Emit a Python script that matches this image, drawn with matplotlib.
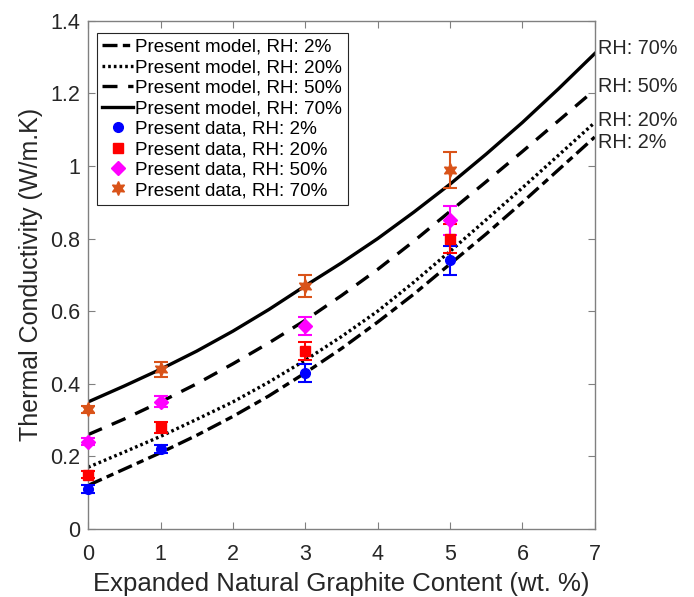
import matplotlib
matplotlib.use("Agg")
import matplotlib.pyplot as plt
from matplotlib.lines import Line2D

plt.rcParams['font.family'] = ['Liberation Sans', 'DejaVu Sans']

# Model curves
x_model = [0, 0.5, 1, 1.5, 2, 2.5, 3, 3.5, 4, 4.5, 5, 5.5, 6, 6.5, 7]
model_rh2 = [0.12, 0.165, 0.21, 0.258, 0.31, 0.367, 0.43, 0.497, 0.57, 0.647, 0.73, 0.813, 0.90, 0.99, 1.08]
model_rh20 = [0.17, 0.212, 0.255, 0.302, 0.35, 0.405, 0.465, 0.53, 0.60, 0.68, 0.765, 0.852, 0.94, 1.03, 1.12]
model_rh50 = [0.26, 0.303, 0.35, 0.40, 0.455, 0.513, 0.575, 0.643, 0.715, 0.793, 0.875, 0.957, 1.04, 1.125, 1.21]
model_rh70 = [0.35, 0.394, 0.44, 0.49, 0.545, 0.605, 0.67, 0.733, 0.80, 0.873, 0.95, 1.033, 1.12, 1.213, 1.31]

# Measured data
x_data = [0, 1, 3, 5]
data_rh2 = [0.11, 0.22, 0.43, 0.74]
data_rh20 = [0.15, 0.28, 0.49, 0.80]
data_rh50 = [0.24, 0.35, 0.56, 0.85]
data_rh70 = [0.33, 0.44, 0.67, 0.99]
err_rh2 = [0.01, 0.01, 0.025, 0.04]
err_rh20 = [0.01, 0.015, 0.025, 0.04]
err_rh50 = [0.01, 0.015, 0.025, 0.04]
err_rh70 = [0.01, 0.02, 0.03, 0.05]

model_labels = ['Present model, RH: 2%', 'Present model, RH: 20%',
                'Present model, RH: 50%', 'Present model, RH: 70%']
data_labels = ['Present data, RH: 2%', 'Present data, RH: 20%',
               'Present data, RH: 50%', 'Present data, RH: 70%']
end_labels = ["RH: 70%", "RH: 50%", "RH: 20%", "RH: 2%"]
end_label_y = [1.325, 1.22, 1.125, 1.065]

TXT = '#262626'
AX = '#808080'

fig = plt.figure(figsize=(6.94, 5.97), dpi=100)
ax = fig.add_axes([0.127, 0.114, 0.730, 0.851])

lw = 2.4
styles = [(0, (4.5, 1.6, 2.2, 1.6)), (0, (0.8, 0.9)), (0, (4.5, 3.2)), '-']
models = [model_rh2, model_rh20, model_rh50, model_rh70]
handles = []
for ys, ls, lab in zip(models, styles, model_labels):
    ax.plot(x_model, ys, color='k', lw=lw, linestyle=ls)
    handles.append(Line2D([], [], color='k', lw=lw, linestyle=ls, label=lab))

datas = [data_rh2, data_rh20, data_rh50, data_rh70]
errs = [err_rh2, err_rh20, err_rh50, err_rh70]
colors = ['#0000FF', '#FF0000', '#FF00FF', '#D95319']
markers = ['o', 's', 'D', (6, 1, 0)]
sizes = [7, 6.5, 7.5, 10]
for ys, es, c, m, s, lab in zip(datas, errs, colors, markers, sizes, data_labels):
    ax.errorbar(x_data, ys, yerr=es, color=c, marker=m, ms=s, linestyle='none',
                capsize=5, elinewidth=1.5, capthick=1.5, clip_on=False, zorder=5)
    handles.append(Line2D([], [], color=c, marker=m, ms=s, linestyle='none', label=lab))

ax.set_xlim(0, 7)
ax.set_ylim(0, 1.4)
ax.set_xticks(range(0, 8))
yt = [0, 0.2, 0.4, 0.6, 0.8, 1.0, 1.2, 1.4]
ax.set_yticks(yt)
ax.set_yticklabels(['0', '0.2', '0.4', '0.6', '0.8', '1', '1.2', '1.4'])
ax.tick_params(direction='in', top=True, right=True, labelsize=15.5, labelcolor=TXT,
               color=AX, length=5, width=0.8)
ax.tick_params(axis='x', pad=11)
ax.tick_params(axis='y', pad=6)
for s in ax.spines.values():
    s.set_color(AX)
    s.set_linewidth(1.0)

ax.set_xlabel('Expanded Natural Graphite Content (wt. %)', fontsize=18.5, color=TXT, labelpad=5)
ax.set_ylabel('Thermal Conductivity (W/m.K)', fontsize=18, color=TXT, labelpad=5)

for lab, yv in zip(end_labels, end_label_y):
    ax.text(7.05, yv, lab, fontsize=14.3, color=TXT, va='center', ha='left', clip_on=False)

leg = ax.legend(handles=handles, loc='upper left', bbox_to_anchor=(0.017, 0.976), fontsize=13.6,
                frameon=True, fancybox=False, edgecolor=TXT, handlelength=1.6, handletextpad=0.15,
                labelspacing=0.17, borderpad=0.3, borderaxespad=0.0, framealpha=1)
leg.get_frame().set_linewidth(0.8)
for t in leg.get_texts():
    t.set_color('#000000')

fig.savefig('out.png', dpi=100)
